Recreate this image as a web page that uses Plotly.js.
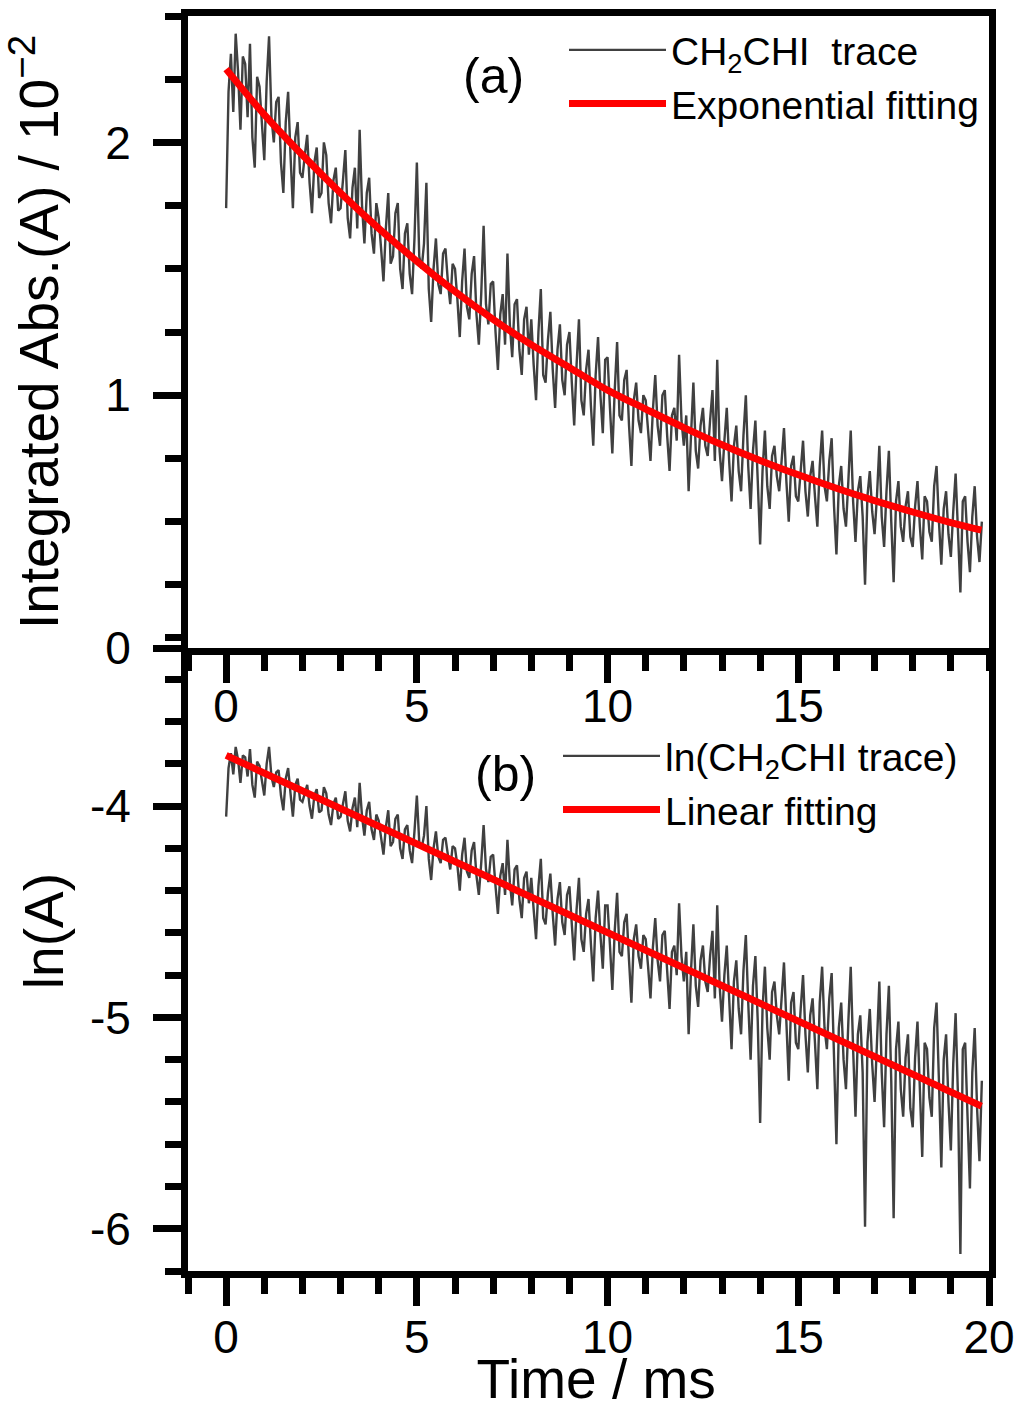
<!DOCTYPE html>
<html>
<head>
<meta charset="utf-8">
<script src="https://cdn.plot.ly/plotly-3.0.1.min.js"></script>
<style>
html,body{margin:0;padding:0;background:#fff;}
#chart{width:1016px;height:1410px;}
</style>
</head>
<body>
<div id="chart"></div>
<script>
// ---- data ----
// recorded trace: first sample time and sampling step (ms)
const traceStart = 0;
const traceStep = 0.0625;

// (a) integrated absorbance of CH2CHI, in units of 10^-2 (16 samples per ms)
const absTrace = [
  1.74,2.20, 2.35,2.12, 2.43,2.28, 2.05,2.34, 2.31,2.10, 2.39,2.02, 1.90,2.26, 2.22,2.06,
  1.93,2.24, 2.42,2.10, 2.00,2.16, 2.18,1.92, 1.80,2.08, 2.20,1.95, 1.74,2.02, 2.08,1.88,
  1.86,1.95, 2.03,1.84, 1.72,1.92, 1.98,1.78, 1.80,2.00, 1.95,1.76, 1.68,1.85, 1.90,1.73,
  1.74,1.85, 1.97,1.70, 1.62,1.82, 1.90,1.66, 2.05,1.75, 1.60,1.80, 1.86,1.64, 1.56,1.76,
  1.70,1.58, 1.45,1.66, 1.80,1.52, 1.55,1.72, 1.76,1.50, 1.42,1.64, 1.68,1.48, 1.40,1.62,
  1.92,1.55, 1.50,1.60, 1.84,1.42, 1.29,1.50, 1.62,1.44, 1.40,1.56, 1.58,1.45, 1.36,1.52,
  1.50,1.38, 1.23,1.45, 1.58,1.35, 1.30,1.48, 1.55,1.32, 1.20,1.40, 1.67,1.36, 1.28,1.44,
  1.45,1.25, 1.10,1.32, 1.40,1.20, 1.56,1.28, 1.15,1.36, 1.38,1.18, 1.08,1.30, 1.35,1.16,
  1.30,1.12, 0.98,1.25, 1.42,1.08, 1.05,1.22, 1.33,1.10, 0.95,1.18, 1.28,1.06, 1.00,1.20,
  1.25,1.05, 0.88,1.12, 1.30,0.98, 0.92,1.10, 1.18,0.96, 0.80,1.08, 1.23,1.00, 0.85,1.14,
  1.15,0.95, 0.77,1.02, 1.21,0.92, 0.90,1.06, 1.10,0.88, 0.72,0.98, 1.05,0.90, 0.85,1.00,
  0.98,0.86, 0.74,0.94, 1.08,0.88, 0.80,1.00, 1.02,0.84, 0.70,0.92, 0.95,0.82, 1.16,0.90,
  0.80,0.92, 0.62,0.84, 1.05,0.78, 0.71,0.88, 0.95,0.80, 0.76,0.90, 1.02,0.74, 1.14,0.78,
  0.66,0.82, 0.95,0.74, 0.58,0.80, 0.88,0.70, 0.62,0.84, 1.00,0.72, 0.55,0.78, 0.90,0.66,
  0.41,0.70, 0.86,0.64, 0.55,0.76, 0.80,0.68, 0.62,0.74, 0.87,0.66, 0.50,0.72, 0.76,0.60,
  0.58,0.70, 0.82,0.62, 0.52,0.68, 0.74,0.60, 0.48,0.72, 0.86,0.64, 0.58,0.74, 0.83,0.56,
  0.37,0.64, 0.72,0.55, 0.48,0.66, 0.86,0.58, 0.42,0.62, 0.68,0.52, 0.25,0.60, 0.70,0.54,
  0.45,0.60, 0.80,0.52, 0.40,0.62, 0.78,0.50, 0.26,0.58, 0.66,0.48, 0.42,0.56, 0.62,0.44,
  0.40,0.56, 0.66,0.48, 0.35,0.60, 0.58,0.46, 0.42,0.64, 0.72,0.50, 0.33,0.55, 0.62,0.45,
  0.36,0.54, 0.69,0.46, 0.22,0.58, 0.60,0.42, 0.30,0.52, 0.64,0.44, 0.34,0.50
];

// (b) ln of the same trace
const lnTrace = [
  -4.05,-3.82, -3.75,-3.85, -3.72,-3.78, -3.89,-3.76, -3.77,-3.86, -3.73,-3.90, -3.96,-3.79, -3.81,-3.88,
  -3.95,-3.80, -3.72,-3.86, -3.91,-3.84, -3.83,-3.95, -4.02,-3.87, -3.82,-3.94, -4.05,-3.90, -3.87,-3.97,
  -3.98,-3.94, -3.90,-4.00, -4.06,-3.95, -3.92,-4.03, -4.02,-3.91, -3.94,-4.04, -4.09,-3.99, -3.96,-4.06,
  -4.05,-3.99, -3.93,-4.07, -4.12,-4.01, -3.96,-4.10, -3.89,-4.05, -4.14,-4.02, -3.98,-4.11, -4.16,-4.04,
  -4.07,-4.15, -4.23,-4.10, -4.02,-4.19, -4.17,-4.06, -4.04,-4.20, -4.25,-4.11, -4.09,-4.21, -4.27,-4.12,
  -3.95,-4.17, -4.20,-4.14, -4.00,-4.25, -4.35,-4.20, -4.12,-4.24, -4.27,-4.16, -4.15,-4.23, -4.30,-4.19,
  -4.20,-4.28, -4.40,-4.23, -4.15,-4.31, -4.34,-4.21, -4.17,-4.33, -4.42,-4.27, -4.09,-4.30, -4.36,-4.24,
  -4.23,-4.38, -4.51,-4.33, -4.27,-4.42, -4.16,-4.36, -4.47,-4.30, -4.28,-4.44, -4.53,-4.34, -4.31,-4.46,
  -4.34,-4.49, -4.63,-4.38, -4.25,-4.53, -4.56,-4.41, -4.32,-4.51, -4.66,-4.44, -4.36,-4.55, -4.61,-4.42,
  -4.38,-4.56, -4.73,-4.49, -4.34,-4.63, -4.69,-4.51, -4.44,-4.65, -4.83,-4.53, -4.40,-4.61, -4.77,-4.47,
  -4.47,-4.66, -4.87,-4.59, -4.41,-4.69, -4.71,-4.55, -4.51,-4.73, -4.93,-4.63, -4.56,-4.71, -4.77,-4.61,
  -4.63,-4.76, -4.91,-4.67, -4.53,-4.73, -4.83,-4.61, -4.59,-4.78, -4.96,-4.69, -4.66,-4.80, -4.46,-4.71,
  -4.83,-4.69, -5.08,-4.78, -4.56,-4.85, -4.95,-4.73, -4.66,-4.83, -4.88,-4.71, -4.59,-4.91, -4.47,-4.85,
  -5.02,-4.80, -4.66,-4.91, -5.15,-4.83, -4.73,-4.96, -5.08,-4.78, -4.61,-4.93, -5.20,-4.85, -4.71,-5.02,
  -5.50,-4.96, -4.76,-5.05, -5.20,-4.88, -4.83,-4.99, -5.08,-4.91, -4.74,-5.02, -5.30,-4.93, -4.88,-5.12,
  -5.15,-4.96, -4.80,-5.08, -5.26,-4.99, -4.91,-5.12, -5.34,-4.93, -4.76,-5.05, -5.15,-4.91, -4.79,-5.19,
  -5.60,-5.05, -4.93,-5.20, -5.34,-5.02, -4.76,-5.15, -5.47,-5.08, -4.99,-5.26, -5.99,-5.12, -4.96,-5.22,
  -5.40,-5.12, -4.83,-5.26, -5.52,-5.08, -4.85,-5.30, -5.95,-5.15, -5.02,-5.34, -5.47,-5.19, -5.08,-5.43,
  -5.52,-5.19, -5.02,-5.34, -5.66,-5.12, -5.15,-5.38, -5.47,-5.05, -4.93,-5.30, -5.71,-5.20, -5.08,-5.40,
  -5.63,-5.22, -4.98,-5.38, -6.12,-5.15, -5.12,-5.47, -5.81,-5.26, -5.05,-5.43, -5.68,-5.30
];

// fitted curves
const expFitTime = [0,1,2,3,4,5,6,7,8,9,10,11,12,13,14,15,16,17,18,19,19.8];
const expFit = [2.29,2.11,1.95,1.80,1.66,1.53,1.41,1.30,1.20,1.11,1.02,0.945,0.872,0.804,0.742,0.685,0.632,0.583,0.538,0.496,0.466];
const linFitTime = [0, 5, 10, 15, 19.8];
const linFit = [-3.76, -4.18, -4.60, -5.02, -5.42];

// tick labels
const xTickValsTop = [0, 5, 10, 15];
const xTickTextTop = ["0", "5", "10", "15"];
const xTickValsBottom = [0, 5, 10, 15, 20];
const xTickTextBottom = ["0", "5", "10", "15", "20"];
const yTickValsTop = [0, 1, 2];
const yTickTextTop = ["0", "1", "2"];
const yTickValsBottom = [-6, -5, -4];
const yTickTextBottom = ["-6", "-5", "-4"];

// ---- layout ----
const W = 1016, H = 1410;
const FONT = 'Liberation Sans, Arial, sans-serif';
const px = v => v / W;
const py = v => 1 - v / H;

const common = {
  showline: true, linewidth: 7, linecolor: '#000',
  ticks: 'outside', ticklen: 28, tickwidth: 7, tickcolor: '#000',
  showgrid: false, zeroline: false, fixedrange: true,
  tickfont: {family: FONT, size: 46, color: '#000'}
};
const minorX = {tickmode: 'linear', tick0: 0, dtick: 1, ticks: 'outside', ticklen: 16, tickwidth: 7, tickcolor: '#000', showgrid: false};

const traces = [
  {type: 'scatter', mode: 'lines', name: 'CH<sub>2</sub>CHI\u00a0\u00a0trace',
   x0: traceStart, dx: traceStep, y: absTrace, xaxis: 'x', yaxis: 'y',
   line: {color: '#404040', width: 2.4}, legend: 'legend'},
  {type: 'scatter', mode: 'lines', name: 'Exponential fitting',
   x: expFitTime, y: expFit, xaxis: 'x', yaxis: 'y',
   line: {color: '#ff0000', width: 7, shape: 'spline'}, legend: 'legend'},
  {type: 'scatter', mode: 'lines', name: 'ln(CH<sub>2</sub>CHI trace)',
   x0: traceStart, dx: traceStep, y: lnTrace, xaxis: 'x2', yaxis: 'y2',
   line: {color: '#404040', width: 2.4}, legend: 'legend2'},
  {type: 'scatter', mode: 'lines', name: 'Linear fitting',
   x: linFitTime, y: linFit, xaxis: 'x2', yaxis: 'y2',
   line: {color: '#ff0000', width: 7}, legend: 'legend2'}
];

const layout = {
  width: W, height: H,
  margin: {l: 0, r: 0, t: 0, b: 0},
  paper_bgcolor: '#fff', plot_bgcolor: 'rgba(0,0,0,0)',
  font: {family: FONT, color: '#000'},
  xaxis: Object.assign({}, common, {
    domain: [px(188), px(989)], range: [-1, 20], anchor: 'y', mirror: true,
    tickmode: 'array', tickvals: xTickValsTop, ticktext: xTickTextTop,
    ticklabelstandoff: -16, minor: minorX
  }),
  yaxis: Object.assign({}, common, {
    domain: [py(648), py(16)], range: [0, 2.5], anchor: 'x', mirror: true,
    tickmode: 'array', tickvals: yTickValsTop, ticktext: yTickTextTop,
    ticklabelstandoff: 13,
    minor: {tickmode: 'linear', tick0: 0, dtick: 0.25, ticks: 'outside', ticklen: 16, tickwidth: 7, tickcolor: '#000', showgrid: false},
    title: {text: 'Integrated Abs.(A) / 10<sup>\u22122</sup>', font: {family: FONT, size: 55, color: '#000'}, standoff: 41}
  }),
  xaxis2: Object.assign({}, common, {
    domain: [px(188), px(989)], range: [-1, 20], anchor: 'y2', mirror: false,
    tickmode: 'array', tickvals: xTickValsBottom, ticktext: xTickTextBottom,
    ticklabelstandoff: -8, minor: minorX,
    title: {text: '\u200b\u00a0Time / ms', font: {family: FONT, size: 55, color: '#000'}, standoff: 36}
  }),
  yaxis2: Object.assign({}, common, {
    domain: [py(1271), py(637)], range: [-6.2, -3.2], anchor: 'x2', mirror: true,
    tickmode: 'array', tickvals: yTickValsBottom, ticktext: yTickTextBottom,
    ticklabelstandoff: 13,
    minor: {tickmode: 'linear', tick0: 0, dtick: 0.2, ticks: 'outside', ticklen: 16, tickwidth: 7, tickcolor: '#000', showgrid: false},
    title: {text: '\u200b\u00a0\u00a0\u00a0ln(A)', font: {family: FONT, size: 55, color: '#000'}, standoff: 11}
  }),
  legend: {x: px(564), y: py(18), xanchor: 'left', yanchor: 'top',
    bgcolor: 'rgba(0,0,0,0)', borderwidth: 0, itemwidth: 97,
    font: {family: FONT, size: 39, color: '#000'}},
  legend2: {x: px(558), y: py(724), xanchor: 'left', yanchor: 'top',
    bgcolor: 'rgba(0,0,0,0)', borderwidth: 0, itemwidth: 97,
    font: {family: FONT, size: 39, color: '#000'}},
  showlegend: true,
  annotations: [
    {text: '(a)', xref: 'paper', yref: 'paper', x: px(493), y: py(76), xanchor: 'center', yanchor: 'middle', showarrow: false, font: {family: FONT, size: 50, color: '#000'}},
    {text: '(b)', xref: 'paper', yref: 'paper', x: px(505), y: py(774), xanchor: 'center', yanchor: 'middle', showarrow: false, font: {family: FONT, size: 50, color: '#000'}}
  ]
};

Plotly.newPlot('chart', traces, layout, {displayModeBar: false, staticPlot: true});
</script>
</body>
</html>
